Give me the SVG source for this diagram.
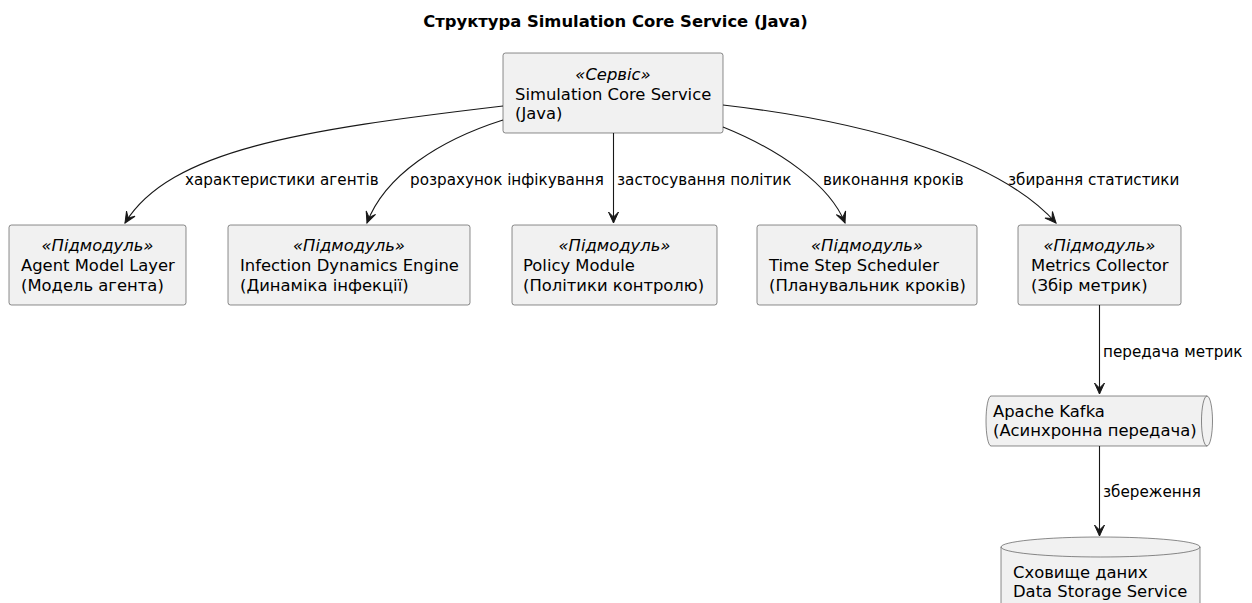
<svg xmlns="http://www.w3.org/2000/svg" width="1252" height="603" viewBox="0 0 1252 603">
  <style>
    .box { fill: #F1F1F1; stroke: #181818; stroke-width: 0.5; }
    .t { font-family: "DejaVu Sans", sans-serif; font-size: 16.4px; fill: #000; }
    .st { font-style: italic; text-anchor: middle; }
    .lbl { font-family: "DejaVu Sans", sans-serif; font-size: 15.2px; fill: #000; }
    .title { font-family: "DejaVu Sans", sans-serif; font-size: 16.4px; font-weight: bold; text-anchor: middle; }
    .edge { fill: none; stroke: #181818; stroke-width: 1.1; marker-end: url(#arrow); }
  </style>
  <defs>
    <marker id="arrow" markerUnits="userSpaceOnUse" markerWidth="14" markerHeight="14" viewBox="-12 -7 14 14" refX="0" refY="0" orient="auto">
      <path d="M0,0 L-11,-5 L-6,0 L-11,5 Z" fill="#181818" stroke="#181818" stroke-width="1"/>
    </marker>
  </defs>
  <rect width="1252" height="603" fill="#FFFFFF"/>

  <text class="title" x="615.5" y="27">Структура Simulation Core Service (Java)</text>

  <g id="core">
    <rect class="box" x="503" y="53" width="220" height="80" rx="2.5"/>
    <text class="t st" x="613" y="80">«Сервіс»</text>
    <text class="t" x="515" y="100">Simulation Core Service</text>
    <text class="t" x="515" y="119">(Java)</text>
  </g>

  <g id="agent">
    <rect class="box" x="9" y="225" width="177" height="80" rx="2.5"/>
    <text class="t st" x="97.5" y="251">«Підмодуль»</text>
    <text class="t" x="21" y="271">Agent Model Layer</text>
    <text class="t" x="21" y="291">(Модель агента)</text>
  </g>

  <g id="infection">
    <rect class="box" x="228" y="225" width="242" height="80" rx="2.5"/>
    <text class="t st" x="349" y="251">«Підмодуль»</text>
    <text class="t" x="240" y="271">Infection Dynamics Engine</text>
    <text class="t" x="240" y="291">(Динаміка інфекції)</text>
  </g>

  <g id="policy">
    <rect class="box" x="512" y="225" width="205" height="80" rx="2.5"/>
    <text class="t st" x="614.5" y="251">«Підмодуль»</text>
    <text class="t" x="523" y="271">Policy Module</text>
    <text class="t" x="523" y="291">(Політики контролю)</text>
  </g>

  <g id="scheduler">
    <rect class="box" x="757" y="225" width="220" height="80" rx="2.5"/>
    <text class="t st" x="867" y="251">«Підмодуль»</text>
    <text class="t" x="769" y="271">Time Step Scheduler</text>
    <text class="t" x="769" y="291">(Планувальник кроків)</text>
  </g>

  <g id="metrics">
    <rect class="box" x="1018" y="225" width="163" height="80" rx="2.5"/>
    <text class="t st" x="1099.5" y="251">«Підмодуль»</text>
    <text class="t" x="1031" y="271">Metrics Collector</text>
    <text class="t" x="1031" y="291">(Збір метрик)</text>
  </g>

  <g id="kafka">
    <path class="box" d="M991,396 L1207,396 A5.5,25 0 0 1 1207,446 L991,446 A5,25 0 0 1 991,396 Z"/>
    <path class="box" d="M1207,396 A5.5,25 0 0 0 1207,446" fill="none"/>
    <text class="t" x="993" y="417">Apache Kafka</text>
    <text class="t" x="993" y="436">(Асинхронна передача)</text>
  </g>

  <g id="storage">
    <path class="box" d="M1001,547 A99.5,10 0 0 1 1200,547 L1200,625 L1001,625 Z"/>
    <path class="box" d="M1001,547 A99.5,10 0 0 0 1200,547" fill="none"/>
    <text class="t" x="1013" y="578">Сховище даних</text>
    <text class="t" x="1013" y="597">Data Storage Service</text>
  </g>

  <g id="connectors">
    <path class="edge" d="M503,106 C300,130 170,150 125,223"/>
    <path class="edge" d="M503,120 C440,140 385,175 367,223"/>
    <path class="edge" d="M613.5,133 L613.5,223"/>
    <path class="edge" d="M723,127 C780,150 830,185 845,223"/>
    <path class="edge" d="M723,105 C870,122 1000,160 1056,223"/>
    <path class="edge" d="M1099.5,305 L1099.5,394"/>
    <path class="edge" d="M1099.5,446 L1099.5,536"/>
    <text class="lbl" x="185" y="185">характеристики агентів</text>
    <text class="lbl" x="410" y="185">розрахунок інфікування</text>
    <text class="lbl" x="617" y="185">застосування політик</text>
    <text class="lbl" x="823" y="185">виконання кроків</text>
    <text class="lbl" x="1008" y="185">збирання статистики</text>
    <text class="lbl" x="1103" y="357">передача метрик</text>
    <text class="lbl" x="1103" y="497">збереження</text>
  </g>
</svg>
